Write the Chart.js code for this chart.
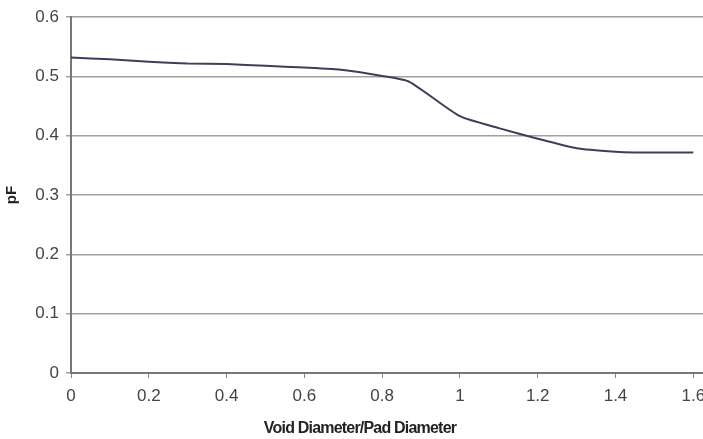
<!DOCTYPE html>
<html>
<head>
<meta charset="utf-8">
<script src="https://cdn.jsdelivr.net/npm/chart.js@4.4.0/dist/chart.umd.min.js"></script>
<style>
  html, body { margin: 0; padding: 0; background: #fff; }
  #wrap { width: 703px; height: 439px; }
</style>
</head>
<body>
<div id="wrap"><canvas id="myChart" width="703" height="439"></canvas></div>
<script>
const ratios = [0, 0.1, 0.2, 0.3, 0.4, 0.5, 0.6, 0.7, 0.8, 0.87, 1.0, 1.1, 1.2, 1.3, 1.4, 1.45, 1.6];
const capacitance = [0.532, 0.529, 0.525, 0.522, 0.521, 0.518, 0.515, 0.511, 0.501, 0.491, 0.433, 0.413, 0.395, 0.379, 0.373, 0.372, 0.372];
const xTicks = [0, 0.2, 0.4, 0.6, 0.8, 1, 1.2, 1.4, 1.6];
const xTitle = 'Void Diameter/Pad Diameter';

// titulo do eixo x desenhado a parte (fica deslocado para a esquerda no original)
const tituloX = {
    id: 'tituloX',
    afterDraw(chart) {
        const ctx = chart.ctx;
        ctx.save();
        ctx.font = 'bold 16px "Liberation Sans"';
        ctx.letterSpacing = '-0.8px';
        ctx.fillStyle = '#222';
        ctx.textAlign = 'center';
        ctx.textBaseline = 'alphabetic';
        ctx.fillText(xTitle, 360, 433);
        ctx.restore();
    }
};

function desenharGrafico() {
    const pontos = ratios.map((r, i) => ({ x: r, y: capacitance[i] }));

    const config = {
        type: 'scatter',
        data: {
            datasets: [{
                data: pontos,
                showLine: true,
                borderColor: '#3c3f5c',
                borderWidth: 2,
                tension: 0.2,
                pointRadius: 0,
                fill: false
            }]
        },
        options: {
            responsive: false,
            animation: false,
            layout: { padding: { top: 12, right: 0, left: 0, bottom: 0 } },
            plugins: {
                legend: { display: false },
                tooltip: { enabled: false }
            },
            scales: {
                x: {
                    type: 'linear',
                    min: 0,
                    max: 1.625,
                    afterBuildTicks: axis => {
                        axis.ticks = xTicks.map(v => ({ value: v }));
                    },
                    afterFit: axis => {
                        axis.height = 66;
                        axis.paddingRight = 0;
                    },
                    grid: {
                        display: true,
                        drawOnChartArea: false,
                        drawTicks: true,
                        tickLength: 5,
                        color: '#888'
                    },
                    border: { color: '#777', width: 2 },
                    ticks: {
                        color: '#444',
                        font: { family: 'Liberation Sans', size: 17 },
                        padding: 8,
                        maxRotation: 0,
                        callback: v => String(v)
                    }
                },
                y: {
                    min: 0,
                    max: 0.6,
                    ticks: {
                        stepSize: 0.1,
                        color: '#444',
                        font: { family: 'Liberation Sans', size: 17 },
                        padding: 7,
                        callback: v => String(Math.round(v * 10) / 10)
                    },
                    afterFit: axis => { axis.width = 71; },
                    grid: {
                        color: '#a0a0a0',
                        lineWidth: 1.5,
                        tickLength: 5
                    },
                    border: { color: '#777', width: 2 },
                    title: {
                        display: true,
                        text: 'pF',
                        color: '#222',
                        font: { family: 'Liberation Sans', size: 15, weight: 'bold' },
                        padding: { bottom: 0, top: 3 }
                    }
                }
            }
        },
        plugins: [tituloX]
    };

    const ctx = document.getElementById('myChart').getContext('2d');
    new Chart(ctx, config);
}

desenharGrafico();
</script>
</body>
</html>
